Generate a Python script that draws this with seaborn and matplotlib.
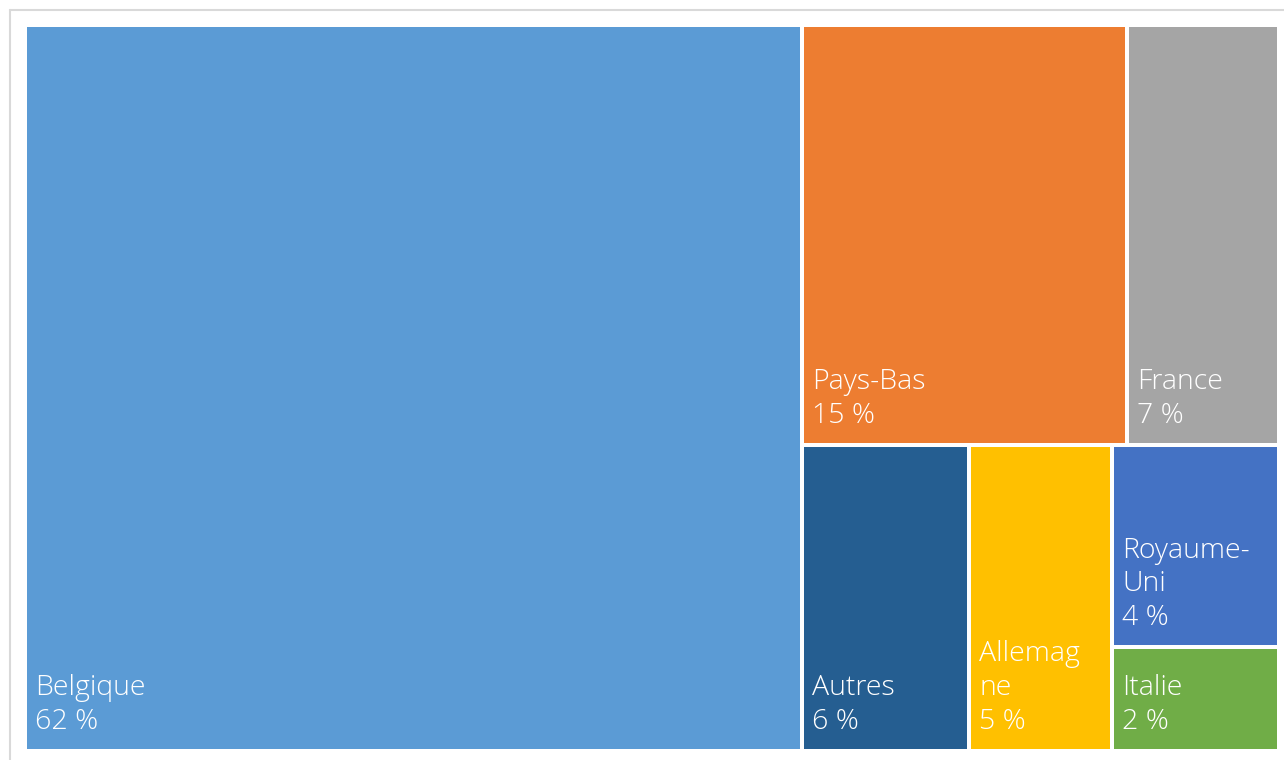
import matplotlib
matplotlib.use("Agg")
import matplotlib.pyplot as plt
from matplotlib.patches import Rectangle
from matplotlib.lines import Line2D
import seaborn as sns

# share of each country (%)
countries = ["Belgique", "Pays-Bas", "France", "Autres", "Allemagne", "Royaume-Uni", "Italie"]
shares = [62.0, 15.0, 7.0, 5.6, 4.8, 3.7, 1.9]
# labels as wrapped in the original
labels = ["Belgique", "Pays-Bas", "France", "Autres", "Allemag\nne", "Royaume-\nUni", "Italie"]
colors = ["#5B9BD5", "#ED7D31", "#A5A5A5", "#255E91", "#FFC000", "#4472C4", "#70AD47"]

# nesting of the tiles (columns / rows alternate at each level)
tree = ["Belgique", [["Pays-Bas", "France"], ["Autres", "Allemagne", ["Royaume-Uni", "Italie"]]]]

value = dict(zip(countries, shares))


def total(node):
    if isinstance(node, str):
        return value[node]
    return sum(total(c) for c in node)


def layout(node, x, y, w, h, horizontal, out):
    """ Slice-and-dice layout, alternating direction at each level. """
    if isinstance(node, str):
        out[node] = (x, y, w, h)
        return out
    t = total(node)
    off = 0.0
    for child in node:
        frac = total(child) / t
        if horizontal:
            layout(child, x + off, y, w * frac, h, not horizontal, out)
            off += w * frac
        else:
            layout(child, x, y + off, w, h * frac, not horizontal, out)
            off += h * frac
    return out


sns.set_theme(style="white")
plt.rcParams['font.family'] = ['Open Sans', 'DejaVu Sans']

W, H = 1284, 760
fig = plt.figure(figsize=(W / 100, H / 100), dpi=100)
fig.patch.set_facecolor("white")
ax = fig.add_axes([0, 0, 1, 1])
ax.set_xlim(0, W)
ax.set_ylim(H, 0)
ax.axis("off")

# chart area border (top and left visible)
ax.add_line(Line2D([10, 10], [10, H + 5], color="#D9D9D9", lw=1.5))
ax.add_line(Line2D([10, W + 5], [10, 10], color="#D9D9D9", lw=1.5))

gap = 4
rects = layout(tree, 25, 25, 1254, 726, True, {})
for name, lab, col in zip(countries, labels, colors):
    x, y, w, h = rects[name]
    x0, y0 = x + gap / 2, y + gap / 2
    w0, h0 = w - gap, h - gap
    ax.add_patch(Rectangle((x0, y0), w0, h0, facecolor=col, edgecolor="none"))
    s = "{} %".format(round(value[name]))
    ax.text(x0 + 8, y0 + h0 - 13, lab + "\n" + s, color="white",
            fontsize=20.5, fontweight="light", ha="left", va="bottom",
            linespacing=1.28)

fig.savefig("out.png", dpi=100, facecolor="white")
